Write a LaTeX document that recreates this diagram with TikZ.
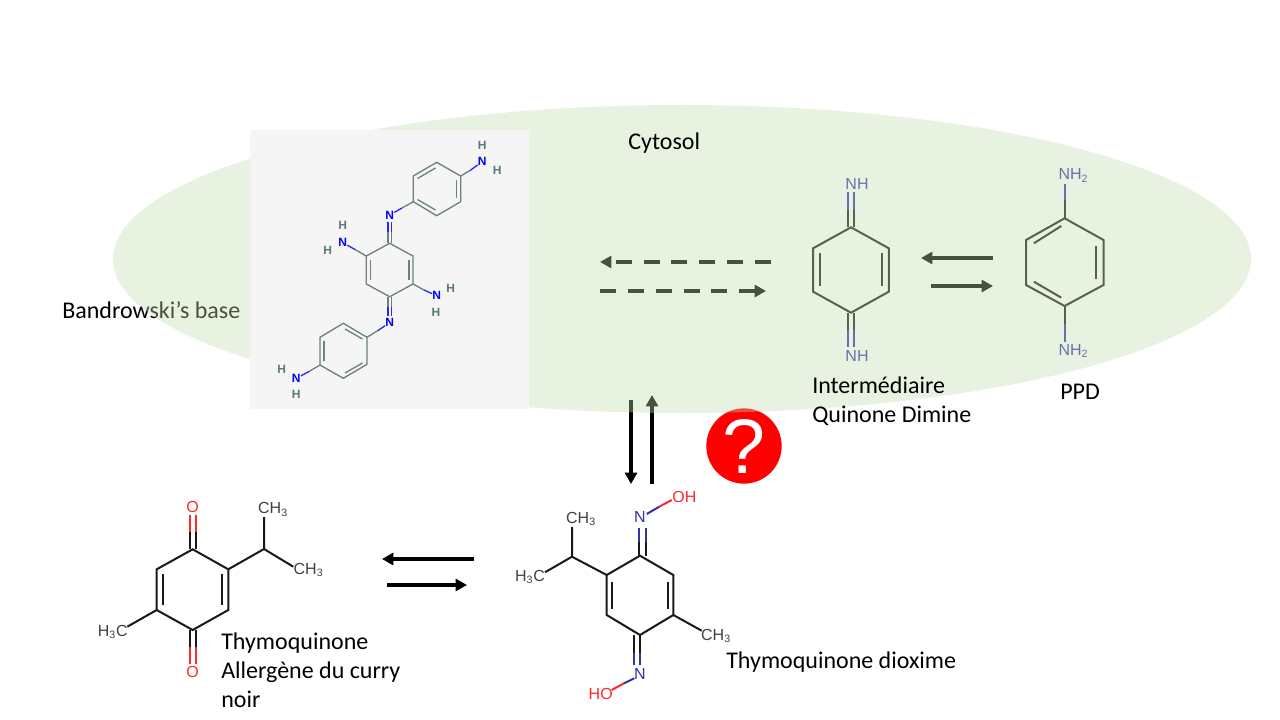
\documentclass[tikz,border=0pt]{standalone}
\usepackage{fontspec}
\usepackage{xcolor}
\usepackage{tikz}
\usetikzlibrary{arrows.meta,positioning}
\setmainfont{Carlito}
\newfontfamily\chemfont{Liberation Sans}

\definecolor{cytosolgreen}{RGB}{192,221,173}
\definecolor{boxgray}{RGB}{245,245,245}
\definecolor{atomblue}{RGB}{50,50,170}
\definecolor{atomred}{RGB}{255,40,40}
\definecolor{ringgray}{RGB}{110,128,128}
\definecolor{hydgray}{RGB}{90,122,122}

\tikzset{
  bond/.style={line width=1.5pt, black!90},
  pale/.style={line width=1pt, ringgray},
  palen/.style={line width=1pt, blue!85},
  nbond/.style={line width=1.5pt, atomblue},
  obond/.style={line width=1.5pt, atomred},
  flow/.style={line width=2.8pt, black, -{Triangle[length=8.5pt,width=9pt]}},
  dashflow/.style={flow, dash pattern=on 12pt off 8.9pt},
  lbl/.style={font=\fontsize{18}{18}\selectfont, anchor=base west, inner sep=0pt},
  chem/.style={font=\chemfont\fontsize{12}{12}\selectfont, inner sep=0pt, text=black!75},
  chemn/.style={chem, text=atomblue},
  chemo/.style={chem, text=atomred},
  bnd/.style={font=\chemfont\bfseries\fontsize{9}{9}\selectfont, inner sep=0pt, text=blue},
  bndh/.style={font=\chemfont\bfseries\fontsize{9}{9}\selectfont, inner sep=0pt, text=hydgray},
}

\begin{document}
\begin{tikzpicture}[x=0.75pt, y=-0.75pt, line cap=butt, line join=miter]
  \useasboundingbox (0,0) rectangle (1280,720);

  % everything below the cytosol
  \node[lbl] (bandrowski) at (62,318.5) {Bandrowski’s base};
  \node[circle, fill=red, minimum size=56.5pt, inner sep=0pt, text=white,
        font=\chemfont\fontsize{58}{58}\selectfont] (question) at (744,446) {?};

  % quinone diimine
  \coordinate (q1) at (851,227.3);
  \coordinate (q2) at (888.8,248.3);
  \coordinate (q3) at (888.8,291.7);
  \coordinate (q4) at (851,312.7);
  \coordinate (q5) at (813.1,291.7);
  \coordinate (q6) at (813.1,248.3);
  \draw[bond] (q1) -- (q2) -- (q3) -- (q4) -- (q5) -- (q6) -- cycle;
  \draw[bond] (819.9,253.3) -- (819.9,286);
  \draw[bond] (881.7,253.3) -- (881.7,286);
  \foreach \x in {847.8,854.2} {
    \draw[bond] (\x,227.3) -- (\x,210);
    \draw[nbond] (\x,210) -- (\x,191.7);
    \draw[bond] (\x,312.7) -- (\x,330);
    \draw[nbond] (\x,330) -- (\x,347.3);
  }
  \node[chemn] (qnt) at (857,184) {NH};
  \node[chemn] (qnb) at (857,356) {NH};

  % ppd
  \coordinate (p1) at (1064.6,218.3);
  \coordinate (p2) at (1103.5,240);
  \coordinate (p3) at (1103.5,285);
  \coordinate (p4) at (1064.6,306);
  \coordinate (p5) at (1026,285);
  \coordinate (p6) at (1026,240);
  \draw[bond] (p1) -- (p2) -- (p3) -- (p4) -- (p5) -- (p6) -- cycle;
  \draw[bond] (1033.9,243.3) -- (1061.3,226);
  \draw[bond] (1096.4,246) -- (1096.4,279.3);
  \draw[bond] (1033.9,281.7) -- (1061.3,297.7);
  \draw[bond] (p1) -- (1064.6,200);
  \draw[nbond] (1064.6,200) -- (1064.6,184);
  \draw[bond] (p4) -- (1064.6,324);
  \draw[nbond] (1064.6,324) -- (1064.6,342);
  \node[chemn] (pnt) at (1073.4,175.3) {NH\textsubscript{2}};
  \node[chemn] (pnb) at (1073.4,350.7) {NH\textsubscript{2}};

  % arrows inside the cytosol
  \coordinate (dta) at (771,262);
  \coordinate (dtb) at (600,262);
  \coordinate (dba) at (600,291);
  \coordinate (dbb) at (766,291);
  \coordinate (sta) at (993,258);
  \coordinate (stb) at (921,258);
  \coordinate (sba) at (931,286);
  \coordinate (sbb) at (993,286);
  \draw[dashflow] (dta) -- (dtb);
  \draw[dashflow] (dba) -- (dbb);
  \draw[flow] (sta) -- (stb);
  \draw[flow] (sba) -- (sbb);
  \coordinate (vda) at (631,400);
  \coordinate (vdb) at (631,484);
  \coordinate (vua) at (652,484);
  \coordinate (vub) at (652,395);
  \draw[flow] (vda) -- (vdb);
  \draw[flow] (vua) -- (vub);

  % semi transparent cytosol on top of the above
  \fill[cytosolgreen, opacity=0.37] (682,259) ellipse [x radius=569, y radius=154];

  % bandrowski's base
  \node[fill=boxgray, minimum size=209.25pt, inner sep=0pt] (bbbox) at (389.5,269.5) {};
  \coordinate (u1) at (436.7,162.3);
  \coordinate (u2) at (460.7,176);
  \coordinate (u3) at (460.7,201.7);
  \coordinate (u4) at (436.7,215.7);
  \coordinate (u5) at (413.3,201.7);
  \coordinate (u6) at (413.3,176);
  \coordinate (c1) at (389.7,243.3);
  \coordinate (c2) at (413,256);
  \coordinate (c3) at (413,284);
  \coordinate (c4) at (389.7,296.7);
  \coordinate (c5) at (366.3,284);
  \coordinate (c6) at (366.3,256);
  \coordinate (l1) at (343.3,323.3);
  \coordinate (l2) at (367,337.3);
  \coordinate (l3) at (367,364.3);
  \coordinate (l4) at (343.3,378.3);
  \coordinate (l5) at (320,365);
  \coordinate (l6) at (320,337.3);
  \draw[pale] (u1) -- (u2) -- (u3) -- (u4) -- (u5) -- (u6) -- cycle;
  \draw[pale] (c1) -- (c2) -- (c3) -- (c4) -- (c5) -- (c6) -- cycle;
  \draw[pale] (l1) -- (l2) -- (l3) -- (l4) -- (l5) -- (l6) -- cycle;
  \draw[pale] (417.5,178.5) -- (435.5,168);
  \draw[pale] (456.5,180) -- (456.5,198);
  \draw[pale] (417.5,199.5) -- (435.5,210);
  \draw[pale] (370.5,260) -- (370.5,280);
  \draw[pale] (409,260) -- (409,280);
  \draw[pale] (345,329) -- (362.5,339);
  \draw[pale] (324,341) -- (324,361);
  \draw[pale] (345,373) -- (362.5,363);
  \node[bnd] (nua) at (482.3,161.7) {N};
  \node[bndh] (hua) at (482.3,145) {H};
  \node[bndh] (hub) at (497.3,170) {H};
  \node[bnd] (nub) at (389.7,215) {N};
  \node[bnd] (ncl) at (342.7,242.7) {N};
  \node[bndh] (hcla) at (342.7,225.7) {H};
  \node[bndh] (hclb) at (327.7,250.7) {H};
  \node[bnd] (ncr) at (436.7,295.7) {N};
  \node[bndh] (hcra) at (450.7,288) {H};
  \node[bndh] (hcrb) at (436,312.7) {H};
  \node[bnd] (nlb) at (389.7,322.7) {N};
  \node[bnd] (nla) at (296.3,378.3) {N};
  \node[bndh] (hla) at (281.7,369.3) {H};
  \node[bndh] (hlb) at (296.3,394) {H};
  \draw[pale] (u2) -- (470,170.5);
  \draw[palen] (470,170.5) -- (nua);
  \draw[pale] (u5) -- (402,208);
  \draw[palen] (402,208) -- (nub);
  \draw[pale] (c6) -- (355,249.5);
  \draw[palen] (355,249.5) -- (ncl);
  \draw[pale] (c3) -- (424,290);
  \draw[palen] (424,290) -- (ncr);
  \draw[pale] (l2) -- (378,330.5);
  \draw[palen] (378,330.5) -- (nlb);
  \draw[pale] (l5) -- (309,371.5);
  \draw[palen] (309,371.5) -- (nla);
  \foreach \x in {387.9,391.5} {
    \draw[pale] (\x,243.3) -- (\x,232);
    \draw[palen] (\x,232) -- (\x,222);
    \draw[pale] (\x,296.7) -- (\x,307);
    \draw[palen] (\x,307) -- (\x,316);
  }

  % thymoquinone
  \coordinate (t1) at (192.7,549.3);
  \coordinate (t2) at (228.3,569.3);
  \coordinate (t3) at (228.3,610);
  \coordinate (t4) at (192.7,630);
  \coordinate (t5) at (156.7,610);
  \coordinate (t6) at (156.7,569.3);
  \coordinate (ti) at (264,549);
  \draw[bond] (t1) -- (t2) -- (t3) -- (t4) -- (t5) -- (t6) -- cycle;
  \draw[bond] (163.3,574) -- (163.3,605);
  \draw[bond] (221.7,574) -- (221.7,605);
  \foreach \x in {190,196} {
    \draw[bond] (\x,549.3) -- (\x,531.7);
    \draw[obond] (\x,531.7) -- (\x,515);
    \draw[bond] (\x,630) -- (\x,646.7);
    \draw[obond] (\x,646.7) -- (\x,664);
  }
  \draw[bond] (t2) -- (ti) -- (264,517);
  \draw[bond] (ti) -- (293.3,566.7);
  \draw[bond] (t5) -- (127.3,626.7);
  \node[chemo] (tot) at (192.7,507.3) {O};
  \node[chemo] (tob) at (192.7,671.7) {O};
  \node[chem] (tma) at (273,509.5) {CH\textsubscript{3}};
  \node[chem] (tmb) at (308.5,570) {CH\textsubscript{3}};
  \node[chem] (tmc) at (112.7,631.7) {H\textsubscript{3}C};

  % thymoquinone dioxime
  \coordinate (o1) at (640,555.7);
  \coordinate (o2) at (673.3,575);
  \coordinate (o3) at (673.3,615);
  \coordinate (o4) at (640,635);
  \coordinate (o5) at (606.7,615);
  \coordinate (o6) at (606.7,575);
  \coordinate (oi) at (572,556.7);
  \draw[bond] (o1) -- (o2) -- (o3) -- (o4) -- (o5) -- (o6) -- cycle;
  \draw[bond] (612,581.7) -- (612,609.3);
  \draw[bond] (668,581.7) -- (668,609.3);
  \draw[bond] (639.3,555.7) -- (639.3,541.7);
  \draw[nbond] (639.3,541.7) -- (639.3,528.3);
  \draw[bond] (645.7,555.7) -- (645.7,541.7);
  \draw[nbond] (645.7,541.7) -- (645.7,528.3);
  \draw[bond] (634,635) -- (634,653.3);
  \draw[nbond] (634,653.3) -- (634,665);
  \draw[bond] (640,635) -- (640,653.3);
  \draw[nbond] (640,653.3) -- (640,665);
  \draw[bond] (o6) -- (oi) -- (572,527);
  \draw[bond] (oi) -- (545,572.3);
  \draw[bond] (o3) -- (701.7,630.7);
  \draw[nbond] (646.7,514) -- (659.3,506.7);
  \draw[obond] (659.3,506.7) -- (671.7,500);
  \draw[nbond] (634.3,678.3) -- (624,683.3);
  \draw[obond] (624,683.3) -- (611.7,690);
  \node[chemn] (ont) at (640,517.3) {N};
  \node[chemn] (onb) at (640,674) {N};
  \node[chemo] (oot) at (684.3,496.7) {OH};
  \node[chemo] (oob) at (600.7,694) {HO};
  \node[chem] (oma) at (581,519) {CH\textsubscript{3}};
  \node[chem] (omb) at (530,577) {H\textsubscript{3}C};
  \node[chem] (omc) at (716,636) {CH\textsubscript{3}};

  % arrows between the two lower molecules
  \coordinate (lta) at (474,559);
  \coordinate (ltb) at (382,559);
  \coordinate (lba) at (387,585);
  \coordinate (lbb) at (467,585);
  \draw[flow] (lta) -- (ltb);
  \draw[flow] (lba) -- (lbb);

  % labels
  \node[lbl] (cytosol) at (628,149.5) {Cytosol};
  \node[lbl] (quinone) at (812,393.5) {Intermédiaire};
  \node[lbl] (dimine) at (812,422.5) {Quinone Dimine};
  \node[lbl] (ppd) at (1060,399) {PPD};
  \node[lbl] (thymo) at (221,649.3) {Thymoquinone};
  \node[lbl] (allergen) at (221,678.3) {Allergène du curry};
  \node[lbl] (noir) at (221,707.5) {noir};
  \node[lbl] (dioxime) at (726,668) {Thymoquinone dioxime};
\end{tikzpicture}
\end{document}
